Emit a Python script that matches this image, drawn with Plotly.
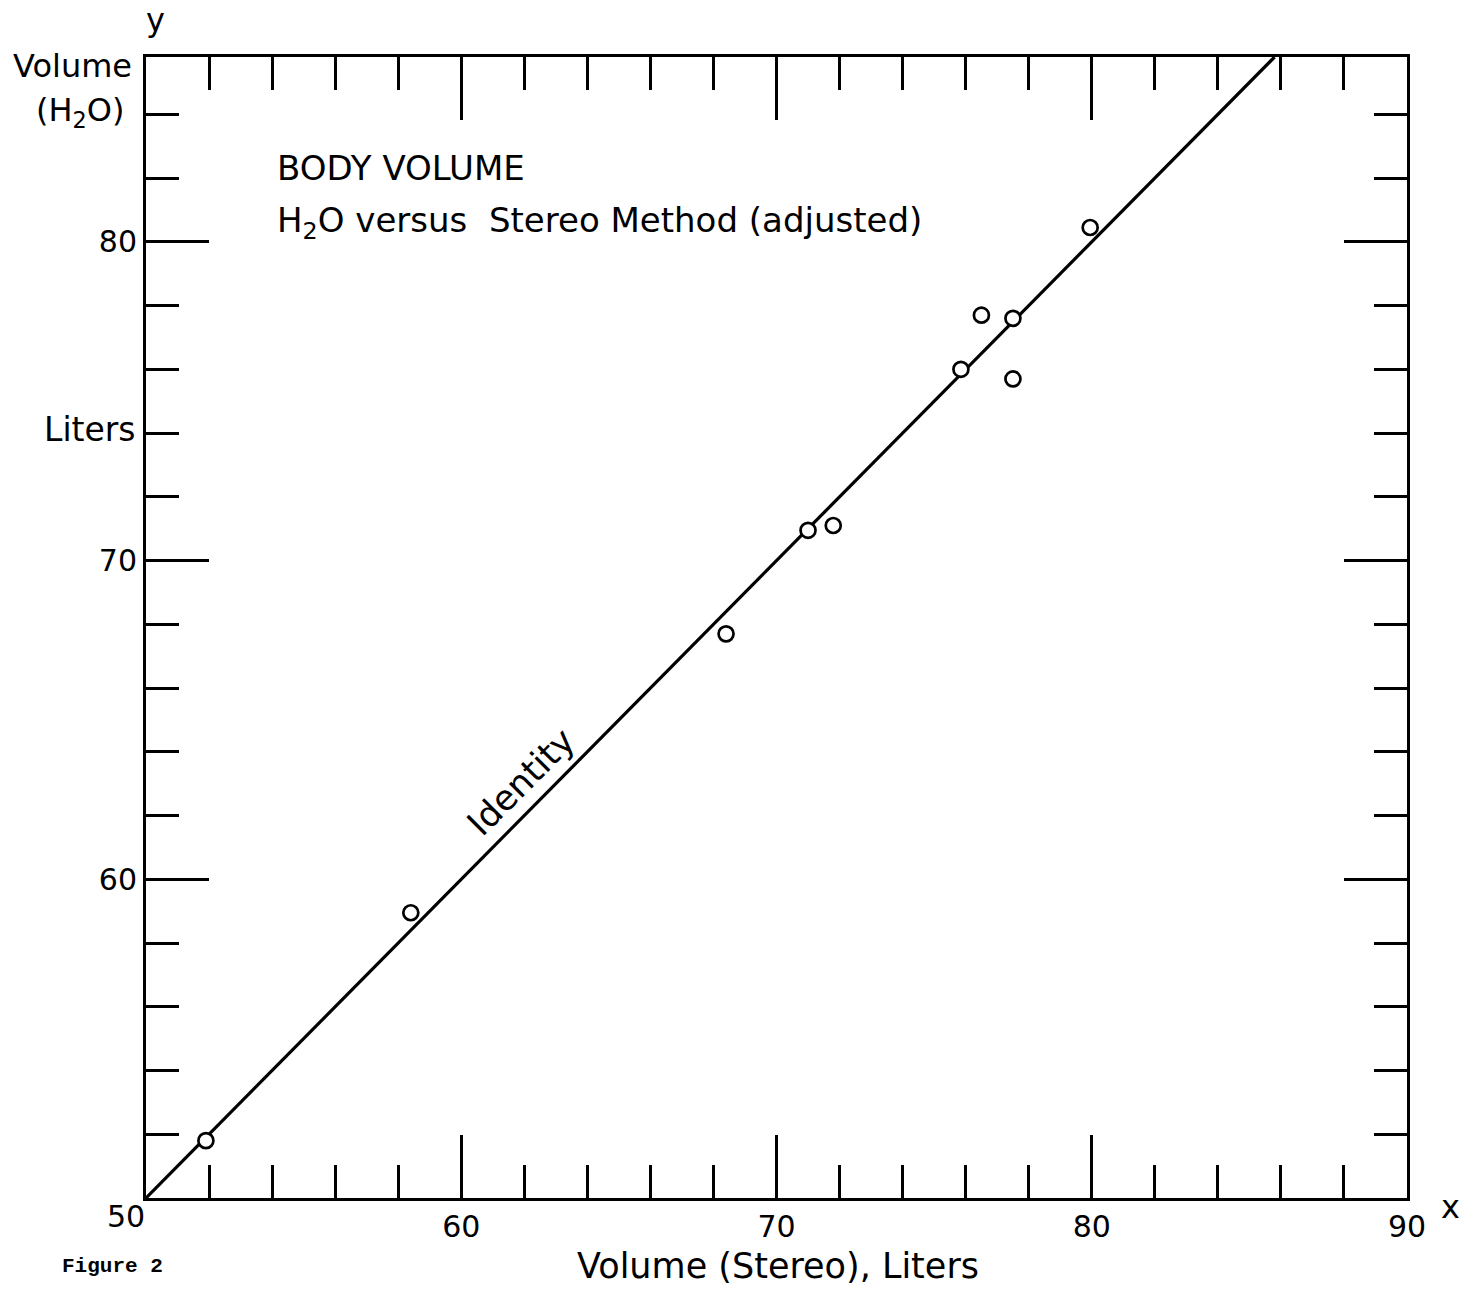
import plotly.graph_objects as go

# Data
stereo_volume = [51.9, 58.4, 68.4, 71.0, 71.8, 75.85, 76.5, 77.5, 77.5, 79.95]
h2o_volume = [51.8, 58.95, 67.7, 70.95, 71.1, 76.0, 77.7, 77.6, 75.7, 80.45]
identity_x = [50, 85.8]
identity_y = [50, 85.8]
x_tick_vals = [60, 70, 80, 90]
x_tick_text = ["60", "70", "80", "90"]
y_tick_vals = [60, 70, 80]
y_tick_text = ["60", "70", "80"]

FONT = "DejaVu Sans"

fig = go.Figure()
fig.add_trace(go.Scatter(x=identity_x, y=identity_y, mode="lines",
                         line=dict(color="black", width=3.2), showlegend=False,
                         cliponaxis=True))
fig.add_trace(go.Scatter(x=stereo_volume, y=h2o_volume, mode="markers",
                         marker=dict(symbol="circle", size=15, color="white",
                                     line=dict(color="black", width=2.7)),
                         showlegend=False))

axis_common = dict(showline=True, linecolor="black", linewidth=3, mirror="ticks",
                   ticks="inside", ticklen=63, tickwidth=3, tickcolor="black",
                   showgrid=False, zeroline=False,
                   tickfont=dict(family=FONT, size=30, color="black"),
                   minor=dict(tick0=50, dtick=2, ticks="inside", ticklen=33, tickwidth=3,
                              tickcolor="black", showgrid=False))

fig.update_xaxes(range=[50, 90], tickmode="array", tickvals=x_tick_vals,
                 ticktext=x_tick_text, **axis_common)
fig.update_yaxes(range=[50, 85.8], tickmode="array", tickvals=y_tick_vals,
                 ticktext=y_tick_text, **axis_common)

fig.update_layout(width=1467, height=1296, margin=dict(l=146, r=60, t=57, b=98),
                  paper_bgcolor="white", plot_bgcolor="white")

annotations = []
L, R, T, B = 146, 1407, 57, 1198
def add_fig(xp, yp, text, size=32, xanchor="center", family=FONT, angle=0):
    annotations.append(dict(x=(xp - L) / (R - L), y=(B - yp) / (B - T),
                            xref="paper", yref="paper",
                            text=text, showarrow=False, xanchor=xanchor, yanchor="middle",
                            textangle=angle,
                            font=dict(family=family, size=size, color="black")))

add_fig(126, 1216, "50", size=30)
add_fig(155, 20, "y", size=32)
add_fig(1450, 1207, "x", size=32)
add_fig(134, 66, "Volume", size=32, xanchor="right")
add_fig(126, 112, "(H<sub>2</sub>O)", size=32, xanchor="right")
add_fig(138, 429, "Liters", size=33, xanchor="right")
add_fig(778, 1266, "Volume (Stereo), Liters", size=35)
add_fig(165, 1266, "<b>Figure 2</b>", size=21, xanchor="right", family="Liberation Mono")
add_fig(275, 168, "BODY VOLUME", size=34, xanchor="left")
add_fig(275, 222, "H<sub>2</sub>O versus  Stereo Method (adjusted)", size=34, xanchor="left")
add_fig(521, 782, "Identity", size=35, angle=-45)

fig.update_layout(annotations=annotations)
fig.write_html("out.html")
